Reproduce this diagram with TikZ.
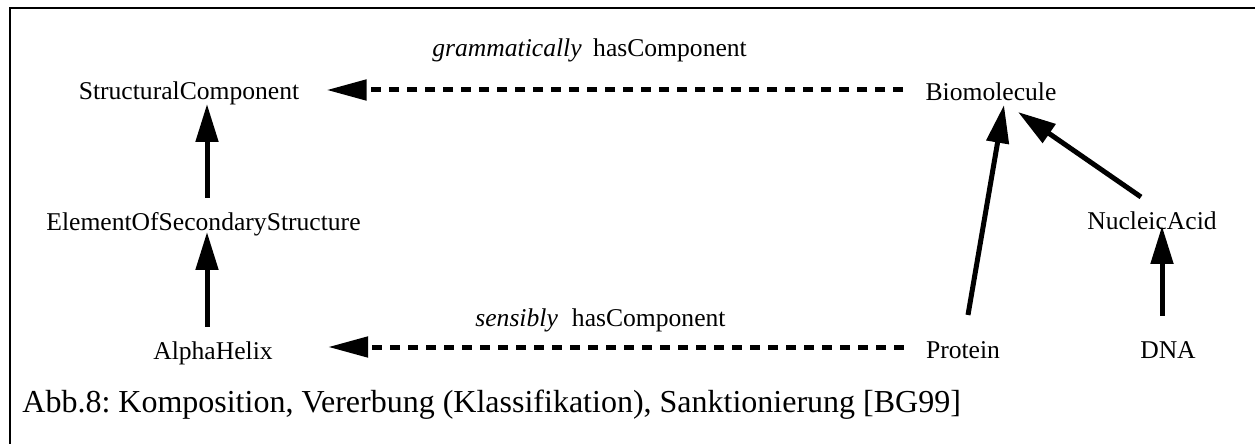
\documentclass[tikz,border=0pt]{standalone}
\usepackage{fontspec}
\setmainfont{Liberation Serif}
\usetikzlibrary{arrows.meta}
\frenchspacing

\tikzset{
  concept/.style={inner sep=0pt, anchor=base, font=\fontsize{12.8}{15}\selectfont},
  rellabel/.style={inner sep=0pt, anchor=base west, font=\fontsize{12.8}{15}\selectfont},
  isa/.style={line width=2.5pt, -{Triangle[length=19pt,width=11pt]}},
  haspart/.style={line width=2.5pt, dash pattern=on 5pt off 4pt, -{Triangle[length=20pt,width=10pt]}},
}

\begin{document}
\begin{tikzpicture}[x=0.5pt,y=-0.5pt]
\useasboundingbox (0,0) rectangle (1255,444);
% frame (only top and left edge on the page)
\draw[line width=1pt] (10,470) -- (10,8) -- (1280,8);

% concepts
\node[concept] (sc) at (189,100) {StructuralComponent};
\node[concept] (elem) at (203.5,231) {ElementOfSecondaryStructure};
\node[concept] (alpha) at (213,359) {AlphaHelix};
\node[concept] (bio) at (991,101) {Biomolecule};
\node[concept] (nucl) at (1152,230) {NucleicAcid};
\node[concept] (prot) at (963,358) {Protein};
\node[concept] (dna) at (1168,358) {DNA};

% relation labels
\node[rellabel] (gram) at (432,57) {\textit{grammatically}\hspace{0.45em}hasComponent};
\node[rellabel] (sens) at (475,327) {\textit{sensibly}\hspace{0.55em}hasComponent};

% inheritance
\draw[isa] ([shift={(3.5,-33)}]elem.base) -- ([shift={(18,4)}]sc.base);
\draw[isa] ([shift={(-6,-32)}]alpha.base) -- ([shift={(3.5,1)}]elem.base);
\draw[isa] ([shift={(5,-43)}]prot.base) -- ([shift={(13,4)}]bio.base);
\draw[isa] ([shift={(-11,-33)}]nucl.base) -- ([shift={(27,11)}]bio.base);
\draw[isa] ([shift={(-6,-42)}]dna.base) -- ([shift={(10,-4)}]nucl.base);

% composition
\draw[haspart] ([shift={(-22,-11)}]bio.base west) -- ([shift={(27,-10)}]sc.base east);
\draw[haspart] ([shift={(-22,-11)}]prot.base west) -- ([shift={(55,-12)}]alpha.base east);

% caption
\node[inner sep=0pt, anchor=base west, font=\fontsize{16}{19}\selectfont] (cap) at (22,412)
  {Abb.8: Komposition, Vererbung (Klassifikation), Sanktionierung [BG99]};
\end{tikzpicture}
\end{document}
